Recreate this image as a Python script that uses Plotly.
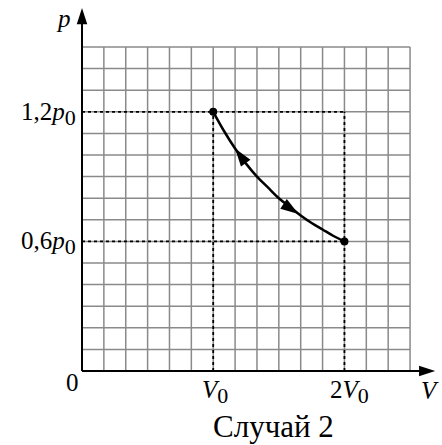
import plotly.graph_objects as go

# ---- data ----
grid_n = 15                       # grid cells along each axis
V_ticks = [6, 12]
SUB = '<sub><span style="font-size:22px">0</span></sub>'
V_tick_labels = ["<i>V</i>" + SUB, "2<i>V</i>" + SUB]
p_ticks = [6, 12]
p_tick_labels = ["0,6<i>p</i>" + SUB, "1,2<i>p</i>" + SUB]

# process curve (V in cells, p in cells)
curve_V = [6, 6.5, 7, 7.5, 8, 8.5, 9, 9.5, 10, 10.5, 11, 11.5, 12]
curve_p = [12, 11.1, 10.3, 9.6, 9.0, 8.5, 8.0, 7.6, 7.2, 6.85, 6.55, 6.25, 6.0]
end_V = [6, 12]
end_p = [12, 6]
arrow_V = [7.0, 9.9]
arrow_p = [10.3, 7.27]
arrow_angle = [-36, 124]

caption = "Случай 2"

FONT = "Liberation Serif, Times New Roman, DejaVu Serif, serif"
W, H = 442, 445
x0px, y0px = 82, 371
cw, ch = 21.87, 21.6
xr = [-x0px / cw, (W - x0px) / cw]
yr = [(y0px - H) / ch, y0px / ch]

fig = go.Figure()

shapes = []
grid_col = "#8a8a8a"
for i in range(1, grid_n + 1):
    shapes.append(dict(type="line", x0=i, x1=i, y0=0, y1=grid_n, xref="x", yref="y",
                       line=dict(color=grid_col, width=1.5), layer="below"))
    shapes.append(dict(type="line", x0=0, x1=grid_n, y0=i, y1=i, xref="x", yref="y",
                       line=dict(color=grid_col, width=1.5), layer="below"))

# dashed guide lines
for v in V_ticks:
    shapes.append(dict(type="line", x0=v, x1=v, y0=0, y1=max(p_ticks), xref="x", yref="y",
                       line=dict(color="black", width=1.8, dash="dot")))
for p in p_ticks:
    shapes.append(dict(type="line", x0=0, x1=max(V_ticks), y0=p, y1=p, xref="x", yref="y",
                       line=dict(color="black", width=1.8, dash="dot")))

# axes lines
x_tip = 16.15
y_tip = 16.8
shapes.append(dict(type="line", x0=0, x1=x_tip - 0.3, y0=0, y1=0, xref="x", yref="y",
                   line=dict(color="black", width=2)))
shapes.append(dict(type="line", x0=0, x1=0, y0=0, y1=y_tip - 0.3, xref="x", yref="y",
                   line=dict(color="black", width=2)))

# curve
fig.add_trace(go.Scatter(x=curve_V, y=curve_p, mode="lines",
                         line=dict(color="black", width=2.5, shape="spline"),
                         hoverinfo="skip", showlegend=False))
fig.add_trace(go.Scatter(x=end_V, y=end_p, mode="markers",
                         marker=dict(color="black", size=8),
                         hoverinfo="skip", showlegend=False))
fig.add_trace(go.Scatter(x=arrow_V, y=arrow_p, mode="markers",
                         marker=dict(color="black", size=19, symbol="arrow", angle=arrow_angle),
                         hoverinfo="skip", showlegend=False))
# axis arrowheads
fig.add_trace(go.Scatter(x=[x_tip, 0], y=[0, y_tip], mode="markers",
                         marker=dict(color="black", size=17, symbol="arrow", angle=[90, 0]),
                         hoverinfo="skip", showlegend=False))

ann = []
lab_font = dict(family=FONT, size=25, color="black")
for v, t, dx in zip(V_ticks, V_tick_labels, [2, 5]):
    ann.append(dict(x=v, y=-0.95, text=t, showarrow=False, xanchor="center", yanchor="middle",
                    xshift=dx, font=lab_font))
for p, t in zip(p_ticks, p_tick_labels):
    ann.append(dict(x=-0.2, y=p, text=t, showarrow=False, xanchor="right", yanchor="middle",
                    yshift=-2, font=lab_font))
ann.append(dict(x=-0.42, y=-0.55, text="0", showarrow=False, xanchor="center", yanchor="middle",
                font=lab_font))
ann.append(dict(x=15.9, y=-0.9, text="<i>V</i>", showarrow=False, xanchor="center", yanchor="middle",
                font=lab_font))
ann.append(dict(x=-0.83, y=16.3, text="<i>p</i>", showarrow=False, xanchor="center", yanchor="middle",
                font=lab_font))
ann.append(dict(x=8.75, y=-2.55, text=caption, showarrow=False, xanchor="center", yanchor="middle",
                font=dict(family=FONT, size=31, color="black")))

fig.update_layout(
    width=W, height=H,
    margin=dict(l=0, r=0, t=0, b=0),
    paper_bgcolor="white", plot_bgcolor="white",
    xaxis=dict(range=xr, visible=False, fixedrange=True),
    yaxis=dict(range=yr, visible=False, fixedrange=True),
    shapes=shapes, annotations=ann,
)
fig.write_html("out.html", config={"staticPlot": True},
               post_script="document.body.style.margin='0';document.body.style.overflow='hidden';")
